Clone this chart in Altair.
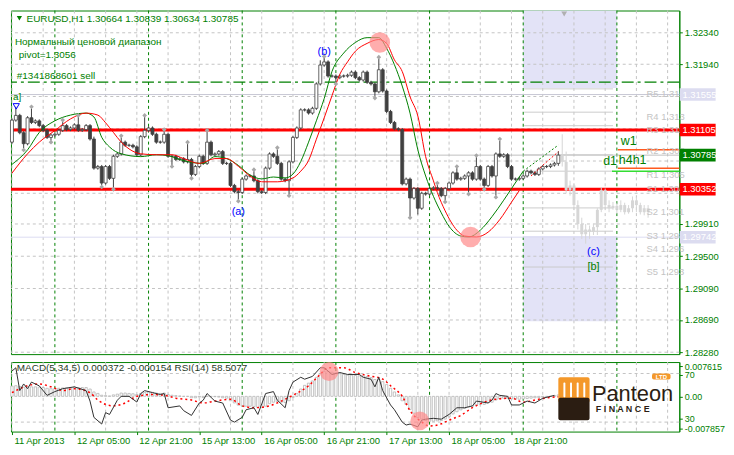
import altair as alt
import pandas as pd

# ---------------- data ----------------
closes = [
    1.3123, 1.3129, 1.3107, 1.3093, 1.3126, 1.3120, 1.3122, 1.3116, 1.3110, 1.3101,
    1.3104, 1.3105, 1.3110, 1.3116, 1.3111, 1.3113, 1.3117, 1.3110, 1.3111, 1.3116,
    1.3099, 1.3062, 1.3064, 1.3043, 1.3064, 1.3049, 1.3077, 1.3080, 1.3095, 1.3091,
    1.3091, 1.3089, 1.3079, 1.3102, 1.3110, 1.3113, 1.3105, 1.3095, 1.3095, 1.3105,
    1.3077, 1.3077, 1.3073, 1.3074, 1.3070, 1.3073, 1.3054, 1.3064, 1.3077, 1.3068,
    1.3095, 1.3079, 1.3080, 1.3083, 1.3068, 1.3068, 1.3040, 1.3032, 1.3031, 1.3048,
    1.3052, 1.3052, 1.3046, 1.3032, 1.3031, 1.3062, 1.3080, 1.3077, 1.3068, 1.3048,
    1.3046, 1.3070, 1.3101, 1.3113, 1.3136, 1.3136, 1.3132, 1.3138, 1.3169, 1.3193,
    1.3197, 1.3179, 1.3179, 1.3177, 1.3179, 1.3179, 1.3180, 1.3184, 1.3177, 1.3174,
    1.3184, 1.3171, 1.3169, 1.3159, 1.3187, 1.3160, 1.3134, 1.3120, 1.3112, 1.3111,
    1.3042, 1.3048, 1.3024, 1.3036, 1.3011, 1.3030, 1.3029, 1.3036, 1.3037, 1.3036,
    1.3027, 1.3036, 1.3043, 1.3056, 1.3048, 1.3049, 1.3052, 1.3056, 1.3048, 1.3064,
    1.3048, 1.3040, 1.3064, 1.3052, 1.3080, 1.3077, 1.3079, 1.3064, 1.3048, 1.3048,
    1.3049, 1.3052, 1.3058, 1.3056, 1.3054, 1.3061, 1.3064, 1.3064, 1.3066, 1.3068,
    1.30785,
]
first_open = 1.3095
upper_wick_pips = [
    2, 11, 2, 2, 2, 12, 2, 2, 2, 2,
    2, 2, 2, 5, 2, 2, 2, 10, 2, 2,
    2, 3, 2, 2, 2, 2, 2, 2, 6, 2,
    2, 2, 2, 2, 17, 2, 2, 2, 2, 4,
    2, 2, 2, 2, 2, 20, 2, 2, 2, 2,
    13, 2, 2, 2, 2, 2, 2, 2, 2, 2,
    2, 2, 6, 2, 2, 2, 2, 2, 9, 2,
    2, 2, 2, 2, 2, 2, 2, 2, 2, 6,
    5, 2, 2, 2, 2, 2, 2, 2, 2, 2,
    2, 2, 2, 2, 14, 2, 2, 2, 2, 2,
    2, 2, 2, 2, 2, 2, 2, 2, 2, 4,
    2, 2, 2, 2, 6, 2, 2, 2, 2, 12,
    2, 2, 2, 2, 2, 17, 2, 2, 2, 2,
    2, 2, 2, 2, 2, 2, 2, 2, 2, 2,
    5,
]
lower_wick_pips = [
    2, 2, 2, 6, 2, 2, 2, 2, 2, 2,
    4, 2, 2, 2, 2, 2, 2, 2, 2, 2,
    2, 2, 2, 3, 2, 2, 12, 2, 2, 2,
    2, 2, 2, 2, 2, 2, 2, 2, 2, 2,
    2, 11, 2, 2, 2, 2, 3, 2, 2, 2,
    2, 2, 2, 2, 2, 2, 2, 2, 9, 2,
    2, 2, 2, 2, 2, 2, 2, 2, 2, 2,
    2, 17, 2, 2, 2, 2, 2, 2, 2, 2,
    2, 2, 2, 6, 2, 2, 2, 2, 2, 2,
    2, 2, 2, 6, 2, 2, 2, 2, 2, 2,
    2, 2, 23, 2, 8, 2, 2, 2, 2, 2,
    2, 6, 2, 2, 2, 2, 2, 21, 2, 2,
    2, 3, 2, 2, 25, 2, 2, 2, 2, 2,
    2, 2, 2, 2, 2, 2, 2, 2, 2, 2,
    3,
]
up_fractals = [5, 13, 17, 28, 34, 39, 45, 50, 62, 68, 80, 94, 109, 114, 119, 125]
down_fractals = [3, 10, 23, 26, 41, 46, 58, 71, 83, 93, 102, 111, 117, 121, 124]

ghost_start = 141
ghost_open = [1.3079, 1.3070, 1.3034, 1.3040, 1.3015, 1.2991, 1.2978, 1.2984, 1.2981, 1.2987, 1.3009, 1.3034,
              1.3015, 1.3011, 1.3014, 1.3009, 1.3015, 1.3006, 1.3011, 1.3021, 1.3015, 1.3006, 1.3011]
ghost_close = [1.3070, 1.3034, 1.3040, 1.3015, 1.2991, 1.2978, 1.2984, 1.2981, 1.2987, 1.3009, 1.3034, 1.3015,
               1.3011, 1.3014, 1.3009, 1.3015, 1.3006, 1.3011, 1.3021, 1.3015, 1.3006, 1.3011, 1.3006]
ghost_high = [1.3105, 1.3083, 1.3046, 1.3042, 1.3021, 1.2999, 1.2991, 1.2989, 1.2991, 1.3011, 1.3038, 1.3036,
              1.3021, 1.3019, 1.3018, 1.3021, 1.3018, 1.3015, 1.3026, 1.3025, 1.3018, 1.3015, 1.3015]
ghost_low = [1.3064, 1.3030, 1.3027, 1.3009, 1.2984, 1.2972, 1.2966, 1.2972, 1.2977, 1.2977, 1.3006, 1.3011,
             1.3006, 1.3009, 1.3004, 1.3006, 1.3003, 1.3004, 1.3006, 1.3006, 1.3003, 1.3002, 1.2999]

green_idx = [0, 4, 7, 11, 15, 19, 21, 23, 25, 28, 33, 37, 40, 43, 46, 49, 52, 55, 58, 61,
             64, 67, 70, 72, 74, 76, 78, 80, 82, 85, 88, 91, 94, 96, 98, 100, 102, 104, 106, 108,
             110, 112, 115, 117, 120, 123, 126, 128, 131, 134, 137, 140]
green_val = [1.30667, 1.30852, 1.31073, 1.31221, 1.31294, 1.31319, 1.31270, 1.31012, 1.30889, 1.30802,
             1.30766, 1.30790, 1.30778, 1.30729, 1.30692, 1.30680, 1.30766, 1.30741, 1.30655, 1.30532,
             1.30483, 1.30507, 1.30495, 1.30544, 1.30704, 1.30950, 1.31221, 1.31503, 1.31848, 1.32082,
             1.32217, 1.32278, 1.32278, 1.32143, 1.31934, 1.31663, 1.31319, 1.30852, 1.30520, 1.30261,
             1.30052, 1.29880, 1.29757, 1.29745, 1.29831, 1.30003, 1.30212, 1.30360, 1.30581, 1.30692,
             1.30802, 1.30913]
red_idx = [0, 4, 7, 11, 15, 19, 22, 24, 26, 28, 30, 33, 37, 41, 44, 48, 52, 55, 58, 61,
           64, 68, 72, 74, 76, 78, 80, 82, 84, 86, 88, 91, 94, 96, 98, 100, 102, 104, 106, 108,
           109, 111, 114, 116, 119, 122, 125, 128, 130, 133, 136, 140]
red_val = [1.30556, 1.30802, 1.30950, 1.31098, 1.31245, 1.31319, 1.31294, 1.31196, 1.31073, 1.30950,
           1.30864, 1.30802, 1.30790, 1.30790, 1.30741, 1.30680, 1.30741, 1.30741, 1.30643, 1.30520,
           1.30446, 1.30446, 1.30495, 1.30581, 1.30717, 1.30987, 1.31258, 1.31540, 1.31811, 1.31971,
           1.32106, 1.32205, 1.32254, 1.32205, 1.31996, 1.31848, 1.31528, 1.31282, 1.30766, 1.30458,
           1.30310, 1.30077, 1.29831, 1.29757, 1.29745, 1.29806, 1.29966, 1.30187, 1.30335, 1.30520,
           1.30655, 1.30827]
ma_dotted_from = 131

macd_hist = [
    0.0028, 0.0029, 0.0027, 0.0025, 0.0026, 0.0026, 0.0026, 0.0025, 0.0024, 0.0022,
    0.0021, 0.0021, 0.0022, 0.0023, 0.0023, 0.0024, 0.0025, 0.0024, 0.0024, 0.0024,
    0.0020, 0.0012, 0.0008, 0.0003, 0.0002, 0.0001, 0.0004, 0.0006, 0.0009, 0.0009,
    0.0008, 0.0007, 0.0005, 0.0008, 0.0011, 0.0012, 0.0011, 0.0009, 0.0008, 0.0009,
    0.0005, 0.0003, 0.0002, 0.0001, 0.0000, 0.0000, -0.0004, -0.0004, -0.0002, -0.0003,
    0.0000, -0.0001, -0.0001, -0.0002, -0.0004, -0.0005, -0.0012, -0.0018, -0.0024, -0.0026,
    -0.0027, -0.0027, -0.0028, -0.0030, -0.0031, -0.0027, -0.0020, -0.0016, -0.0014, -0.0016,
    -0.0017, -0.0012, -0.0003, 0.0008, 0.0020, 0.0030, 0.0036, 0.0042, 0.0052, 0.0062,
    0.0068, 0.0068, 0.0066, 0.0064, 0.0062, 0.0060, 0.0058, 0.0058, 0.0057, 0.0056,
    0.0056, 0.0054, 0.0051, 0.0046, 0.0046, 0.0040, 0.0032, 0.0022, 0.0012, 0.0004,
    -0.0012, -0.0022, -0.0036, -0.0046, -0.0058, -0.0062, -0.0066, -0.0068, -0.0068, -0.0067,
    -0.0066, -0.0062, -0.0056, -0.0048, -0.0042, -0.0037, -0.0033, -0.0029, -0.0027, -0.0023,
    -0.0022, -0.0022, -0.0017, -0.0016, -0.0010, -0.0007, -0.0005, -0.0005, -0.0007, -0.0008,
    -0.0008, -0.0007, -0.0006, -0.0005, -0.0004, -0.0003, -0.0002, -0.0001, 0.0000, 0.0002,
    0.0004,
]
signal_idx = [0, 4, 7, 10, 13, 16, 20, 22, 26, 29, 32, 36, 39, 42, 46, 49, 52, 56, 59, 62,
              66, 69, 72, 76, 79, 81, 85, 88, 91, 95, 97, 100, 102, 105, 107, 110, 112, 115, 118, 121,
              124, 128, 131, 134, 138, 140]
signal_val = [0.0010, 0.0029, 0.0034, 0.0026, 0.0016, 0.0021, 0.0010, -0.0010, -0.0026, -0.0018,
              0.0000, 0.0005, 0.0003, -0.0005, -0.0010, -0.0018, -0.0013, -0.0008, -0.0026, -0.0031,
              -0.0026, -0.0013, 0.0003, 0.0029, 0.0060, 0.0078, 0.0078, 0.0065, 0.0057, 0.0047,
              0.0029, 0.0000, -0.0039, -0.0070, -0.0081, -0.0075, -0.0065, -0.0052, -0.0031, -0.0016,
              -0.0008, -0.0005, -0.0016, -0.0010, -0.0003, -0.00015]
rsi_idx = [0, 1, 2, 3, 4, 5, 7, 9, 11, 13, 16, 19, 20, 21, 23, 24, 25, 27, 28, 30,
           32, 33, 34, 36, 38, 39, 40, 43, 44, 46, 48, 49, 50, 52, 54, 56, 57, 59, 60, 62,
           63, 65, 67, 68, 70, 71, 72, 74, 75, 77, 79, 80, 82, 84, 86, 89, 90, 92, 93, 94,
           95, 97, 98, 100, 101, 102, 104, 105, 106, 108, 110, 112, 114, 116, 118, 119, 122, 123, 124, 125,
           127, 128, 130, 132, 134, 136, 139]
rsi_val = [72.0, 74.7, 55.9, 61.4, 57.5, 62.9, 59.8, 52.0, 55.1, 57.5, 59.0, 55.9, 47.3, 33.9, 28.4, 37.8, 36.3, 48.0, 51.2, 51.2,
           46.5, 53.5, 55.9, 54.3, 52.7, 53.5, 41.8, 43.3, 39.4, 35.5, 45.7, 48.0, 53.5, 47.3, 45.7, 31.6, 30.0, 33.9, 40.2, 41.8,
           36.3, 53.5, 55.1, 48.0, 41.8, 55.9, 62.9, 66.9, 65.3, 67.6, 74.7, 74.7, 69.2, 70.8, 69.2, 69.2, 66.9, 65.3, 59.0, 66.9,
           55.9, 44.1, 40.2, 30.0, 27.6, 28.4, 26.1, 31.6, 32.4, 33.1, 32.4, 36.3, 41.8, 41.8, 43.3, 47.3, 45.7, 48.0, 53.5, 52.0,
           51.2, 44.1, 44.1, 47.3, 45.7, 49.6, 52.0]

time_labels = ["11 Apr 2013", "12 Apr 05:00", "12 Apr 21:00", "15 Apr 13:00", "16 Apr 05:00",
               "16 Apr 21:00", "17 Apr 13:00", "18 Apr 05:00", "18 Apr 21:00"]
time_label_idx = [0, 16, 32, 48, 64, 80, 96, 112, 128]
price_grid = [1.3234, 1.3194, 1.3153, 1.3112, 1.3071, 1.3030, 1.2991, 1.2950, 1.2909, 1.2869, 1.2828]
price_ticks = [1.3234, 1.3194, 1.2991, 1.2950, 1.2909, 1.2869, 1.2828]
grid_idx = [0, 8, 16, 24, 32, 40, 48, 56, 64, 72, 80, 88, 96, 104, 112, 120, 128, 136, 144, 152, 160, 168]
day_sep_idx = [11, 35, 59, 83, 107, 131, 155]
sub_tick_pos = [76.1, 68.8, 51.2, 32.8, 24.6]
sub_tick_text = ["0.007615", "70", "0.00", "30", "-0.007857"]

support_resistance = [1.31105, 1.30352]
sell_order_level = 1.31713
bid_level = 1.30785
faint_levels = [1.31555, 1.29742]
pivot_lines = [1.31627, 1.31331, 1.31159, 1.30790, 1.30581, 1.30114, 1.29818, 1.29363]
pivot_names = ["R5 1.316", "R4 1.313", "R3 1.311", "R2 1.308", "R1 1.305",
               "S1 1.304", "S2 1.301", "S3 1.298", "S4 1.296", "S5 1.293"]
pivot_name_levels = [1.31565, 1.31270, 1.31110, 1.30840, 1.30532, 1.30360, 1.30064, 1.29757, 1.29597, 1.29302]
tf_levels = {"w1": 1.30852, "h4h1": 1.30618, "d1": 1.30581}
zones = [(1.32623, 1.31639), (1.29757, 1.28675)]
box_labels = ["1.31555", "1.31105", "1.30785", "1.30352", "1.29742"]
box_levels = [1.31555, 1.31105, 1.30785, 1.30352, 1.29742]
box_colors = ["#dcdcf0", "#ff0000", "#008000", "#ff0000", "#dcdcf0"]

# ---------------- scales / helpers ----------------
GREEN = "#008000"
FONT = "Liberation Sans"
W, H_MAIN, H_SUB = 673, 346, 70
xs = alt.Scale(domain=[-0.25, 171], nice=False, zero=False)
ps = alt.Scale(domain=[1.28256, 1.32623], nice=False, zero=False)
rs = alt.Scale(domain=[22.2, 79.4], nice=False, zero=False)
ms = alt.Scale(domain=[-0.00962, 0.00936], nice=False, zero=False)

price_axis = alt.Axis(orient="right", values=price_ticks, format=".5f", title=None, grid=False,
                      domainColor=GREEN, tickColor=GREEN, tickSize=3, labelColor=GREEN,
                      labelFont=FONT, labelFontSize=9.5, labelPadding=2, labelFlush=False,
                      labelOverlap=False)


def XM(f="i"):
    return alt.X(f, type="quantitative", scale=xs, axis=None)


def YM(f="p"):
    return alt.Y(f, type="quantitative", scale=ps, axis=price_axis)


lbl_js = "[" + ",".join("'%s'" % t for t in time_labels) + "]"
sub_x_axis = alt.Axis(values=time_label_idx, labelExpr=lbl_js + "[round(datum.value/16)]", title=None,
                      grid=False, domain=False, tickColor=GREEN, tickSize=3, labelColor=GREEN,
                      labelFont=FONT, labelFontSize=9.5, labelAlign="left", labelOffset=2,
                      labelPadding=1, labelFlush=False, labelOverlap=False)
sub_js = "{" + ",".join("'%s':'%s'" % (p, t) for p, t in zip(sub_tick_pos, sub_tick_text)) + "}"
rsi_axis = alt.Axis(orient="right", values=sub_tick_pos,
                    labelExpr=sub_js + "[format(datum.value, '.1f')]",
                    title=None, grid=False, domainColor=GREEN, tickColor=GREEN, tickSize=3,
                    labelColor=GREEN, labelFont=FONT, labelFontSize=9, labelPadding=2,
                    labelFlush=False, labelOverlap=False)


def XS(f="i"):
    return alt.X(f, type="quantitative", scale=xs, axis=sub_x_axis)


def YR(f="r", axis=False):
    return alt.Y(f, type="quantitative", scale=rs, axis=rsi_axis if axis else None)


def YMC(f="v"):
    return alt.Y(f, type="quantitative", scale=ms, axis=None)


def mtext(rows, color, size, align="left", weight="normal", baseline="middle"):
    df = pd.DataFrame(rows, columns=["i", "p", "t"])
    return alt.Chart(df).mark_text(align=align, baseline=baseline, color=color, fontSize=size,
                                   font=FONT, fontWeight=weight).encode(x=XM(), y=YM(), text="t:N")


# ---------------- main panel ----------------
opens = [first_open] + closes[:-1]
cd = pd.DataFrame({"i": range(len(closes)), "o": opens, "c": closes})
cd["hi"] = cd[["o", "c"]].max(axis=1) + pd.Series(upper_wick_pips) * 0.0001
cd["lo"] = cd[["o", "c"]].min(axis=1) - pd.Series(lower_wick_pips) * 0.0001
cd["a"] = cd["i"] - 0.38
cd["b"] = cd["i"] + 0.38
cd["fill"] = ["#ffffff" if c >= o else "#404040" for o, c in zip(cd["o"], cd["c"])]

gd = pd.DataFrame({"i": range(ghost_start, ghost_start + len(ghost_open)), "o": ghost_open,
                   "c": ghost_close, "hi": ghost_high, "lo": ghost_low})
gd["a"] = gd["i"] - 0.38
gd["b"] = gd["i"] + 0.38

layers = []
zd = pd.DataFrame({"a": [131, 131], "b": [155, 155], "p": [z[0] for z in zones], "p2": [z[1] for z in zones]})
layers.append(alt.Chart(zd).mark_rect(color="#e3e3f7").encode(x=XM("a"), x2="b", y=YM("p"), y2="p2"))
layers.append(alt.Chart(pd.DataFrame({"p": price_grid})).mark_rule(color="#c4c4c4", strokeDash=[3, 3]).encode(y=YM()))
layers.append(alt.Chart(pd.DataFrame({"i": grid_idx})).mark_rule(color="#c4c4c4", strokeDash=[3, 3]).encode(x=XM()))
layers.append(alt.Chart(pd.DataFrame({"i": day_sep_idx})).mark_rule(color=GREEN, strokeDash=[3, 3]).encode(x=XM()))
layers.append(alt.Chart(pd.DataFrame({"p": [faint_levels[0]]})).mark_rule(color="#c8c8d4").encode(y=YM()))
layers.append(alt.Chart(pd.DataFrame({"p": [faint_levels[1]]})).mark_rule(color="#dcdcf2").encode(y=YM()))
layers.append(alt.Chart(pd.DataFrame({"p": [bid_level]})).mark_rule(color="#c0c0c0").encode(y=YM()))
pl = pd.DataFrame({"a": [131.25] * len(pivot_lines), "b": [154] * len(pivot_lines), "p": pivot_lines})
layers.append(alt.Chart(pl).mark_rule(color="#cccccc").encode(x=XM("a"), x2="b", y=YM()))
layers.append(alt.Chart(pd.DataFrame({"p": support_resistance})).mark_rule(color="#ff0000", strokeWidth=3).encode(y=YM()))
layers.append(alt.Chart(pd.DataFrame({"p": [sell_order_level]})).mark_rule(
    color=GREEN, strokeWidth=1.4, strokeDash=[12, 4, 3, 4]).encode(y=YM()))
tl = pd.DataFrame({"a": [155.25, 155.25], "b": [171, 171], "p": [tf_levels["w1"], tf_levels["h4h1"]]})
layers.append(alt.Chart(tl).mark_rule(color="#ff5a1f", strokeWidth=1.5).encode(x=XM("a"), x2="b", y=YM()))
ll = pd.DataFrame({"a": [153.75], "b": [171], "p": [tf_levels["d1"]]})
layers.append(alt.Chart(ll).mark_rule(color="#33dd33", strokeWidth=1.5).encode(x=XM("a"), x2="b", y=YM()))
# ghost candles
layers.append(alt.Chart(gd).mark_rule(color="#d6d6d6").encode(x=XM(), y=YM("lo"), y2="hi"))
layers.append(alt.Chart(gd).mark_rect(color="#d6d6d6").encode(x=XM("a"), x2="b", y=YM("o"), y2="c"))
# real candles
layers.append(alt.Chart(cd).mark_rule(color="#404040").encode(x=XM(), y=YM("lo"), y2="hi"))
layers.append(alt.Chart(cd).mark_rect(stroke="#404040", strokeWidth=0.8).encode(
    x=XM("a"), x2="b", y=YM("o"), y2="c", fill=alt.Fill("fill:N", scale=None)))
# moving averages
for idx, val, col in [(green_idx, green_val, "#008000"), (red_idx, red_val, "#ff0000")]:
    md = pd.DataFrame({"i": idx, "p": val})
    layers.append(alt.Chart(md[md.i <= ma_dotted_from]).mark_line(color=col, strokeWidth=1, interpolate="monotone").encode(x=XM(), y=YM()))
    layers.append(alt.Chart(md[md.i >= ma_dotted_from]).mark_line(color=col, strokeWidth=1, strokeDash=[2, 2], interpolate="monotone").encode(x=XM(), y=YM()))
# fractals
fr = pd.DataFrame({"i": up_fractals + down_fractals,
                   "p": [cd.hi[k] + 0.0002 for k in up_fractals] + [cd.lo[k] - 0.0002 for k in down_fractals]})
layers.append(alt.Chart(fr).mark_point(shape="diamond", filled=True, size=22, color="#a8a8a8", opacity=1).encode(x=XM(), y=YM()))
# highlight circles
cc = pd.DataFrame({"i": [94.25, 117.5], "p": [1.32217, 1.29745]})
layers.append(alt.Chart(cc).mark_circle(color="#ff8a8a", opacity=0.7, size=430).encode(x=XM(), y=YM()))
# markers
layers.append(alt.Chart(pd.DataFrame({"i": [1.9], "p": [1.32524]})).mark_point(shape="triangle-down", filled=True, size=28, color=GREEN, opacity=1).encode(x=XM(), y=YM()))
layers.append(alt.Chart(pd.DataFrame({"i": [141.5], "p": [1.32580]})).mark_point(shape="triangle-down", filled=True, size=34, color="#b0b0b0", opacity=1).encode(x=XM(), y=YM()))
layers.append(alt.Chart(pd.DataFrame({"i": [1.1], "p": [1.31405]})).mark_point(shape="triangle-down", filled=False, size=40, color="#0000ff", opacity=1, strokeWidth=1).encode(x=XM(), y=YM()))
# texts
layers.append(mtext([(3.75, 1.32512, "EURUSD,H1  1.30664 1.30839 1.30634 1.30785"),
                     (0.75, 1.32217, "Нормальный ценовой диапазон"),
                     (1.75, 1.32057, "pivot=1.3056"),
                     (1.25, 1.31786, "#1341868601 sell"),
                     (0.25, 1.31528, "a]")], GREEN, 10))
layers.append(mtext([(80, 1.32094, "(b)"), (58, 1.30064, "(a)"), (149, 1.29548, "(c)")], "#0000ff", 11, align="center"))
layers.append(mtext([(149, 1.29363, "[b]")], GREEN, 11, align="center"))
layers.append(mtext([(156, 1.30962, "w1"), (151.5, 1.30716, "d1"), (155.5, 1.30729, "h4h1")], GREEN, 12.5))
layers.append(mtext([(162.6, p, t) for p, t in zip(pivot_name_levels, pivot_names)], "#c4c4c4", 9.5))
# price boxes on right axis
bd = pd.DataFrame({"a": [171.1] * 5, "b": [180.3] * 5, "p": [v + 0.0008 for v in box_levels],
                   "p2": [v - 0.0008 for v in box_levels], "fill": box_colors})
layers.append(alt.Chart(bd).mark_rect().encode(x=XM("a"), x2="b", y=YM("p"), y2="p2", fill=alt.Fill("fill:N", scale=None)))
layers.append(mtext([(171.8, v, t) for v, t in zip(box_levels, box_labels)], "#ffffff", 9.5))

main = alt.layer(*layers).properties(width=W, height=H_MAIN)

# ---------------- sub panel (MACD / RSI) ----------------
sl = []
sl.append(alt.Chart(pd.DataFrame({"r": [70, 30]})).mark_rule(color="#c4c4c4", strokeDash=[3, 3]).encode(y=YR(axis=True)))
sl.append(alt.Chart(pd.DataFrame({"i": grid_idx})).mark_rule(color="#c4c4c4", strokeDash=[3, 3]).encode(x=XS()))
sl.append(alt.Chart(pd.DataFrame({"i": day_sep_idx})).mark_rule(color=GREEN, strokeDash=[3, 3]).encode(x=XS()))
hd = pd.DataFrame({"i": range(len(macd_hist)), "v": macd_hist})
hd["a"] = hd["i"] - 0.3
hd["b"] = hd["i"] + 0.3
hd["z"] = 0.0
sl.append(alt.Chart(hd).mark_rect(fill="#ffffff", stroke="#b4b4b4", strokeWidth=0.8).encode(x=XS("a"), x2="b", y=YMC("z"), y2="v"))
sd = pd.DataFrame({"i": signal_idx, "v": signal_val})
sl.append(alt.Chart(sd).mark_line(color="#ff0000", strokeWidth=1.5, strokeDash=[2, 3], interpolate="monotone").encode(x=XS(), y=YMC()))
rd = pd.DataFrame({"i": rsi_idx, "r": rsi_val})
sl.append(alt.Chart(rd).mark_line(color="#303030", strokeWidth=1).encode(x=XS(), y=YR()))
sc = pd.DataFrame({"i": [81.25, 104.5], "r": [71.6, 31.0]})
sl.append(alt.Chart(sc).mark_circle(color="#ff8a8a", opacity=0.7, size=360).encode(x=XS(), y=YR()))
sl.append(alt.Chart(pd.DataFrame({"i": [1.25], "r": [74.7], "t": ["MACD(5,34,5) 0.000372 -0.000154  RSI(14) 58.5077"]}))
          .mark_text(align="left", baseline="middle", color="#1f3a1f", fontSize=10, font=FONT)
          .encode(x=XS(), y=YR(), text="t:N"))
# logo
logo_rects = pd.DataFrame({
    "a": [140, 140, 141.3, 143.0, 144.7, 146.4, 164],
    "b": [148, 148, 141.8, 143.5, 145.2, 146.9, 168.75],
    "r": [67.0, 50.0, 62.5, 62.5, 62.5, 62.5, 70.0],
    "r2": [46.0, 31.6, 50.5, 50.5, 50.5, 50.5, 65.0],
    "fill": ["#f4982a", "#2b1d12", "#ffffff", "#ffffff", "#ffffff", "#ffffff", "#f4982a"]})
sl.append(alt.Chart(logo_rects).mark_rect(cornerRadius=2).encode(x=XS("a"), x2="b", y=YR("r"), y2="r2", fill=alt.Fill("fill:N", scale=None)))
sl.append(alt.Chart(pd.DataFrame({"i": [166.4], "r": [67.5], "t": ["LTD"]}))
          .mark_text(align="center", baseline="middle", color="#ffffff", fontSize=6, font=FONT, fontWeight="bold")
          .encode(x=XS(), y=YR(), text="t:N"))
sl.append(alt.Chart(pd.DataFrame({"i": [148.6], "r": [47.5], "t": ["Panteon"]}))
          .mark_text(align="left", baseline="alphabetic", color="#2b1d12", fontSize=22, font=FONT)
          .encode(x=XS(), y=YR(), text="t:N"))
sl.append(alt.Chart(pd.DataFrame({"i": [149.6], "r": [40.5], "t": ["F  I  N  A  N  C  E"]}))
          .mark_text(align="left", baseline="middle", color="#2b1d12", fontSize=9, font=FONT, fontWeight="bold")
          .encode(x=XS(), y=YR(), text="t:N"))

sub = alt.layer(*sl).resolve_scale(y="independent").properties(width=W, height=H_SUB)

chart = (alt.vconcat(main, sub, spacing=3)
         .properties(padding=0, background="white")
         .configure_view(stroke=GREEN, strokeWidth=1))

chart.save("out.html", embed_options={"renderer": "svg", "actions": False})
